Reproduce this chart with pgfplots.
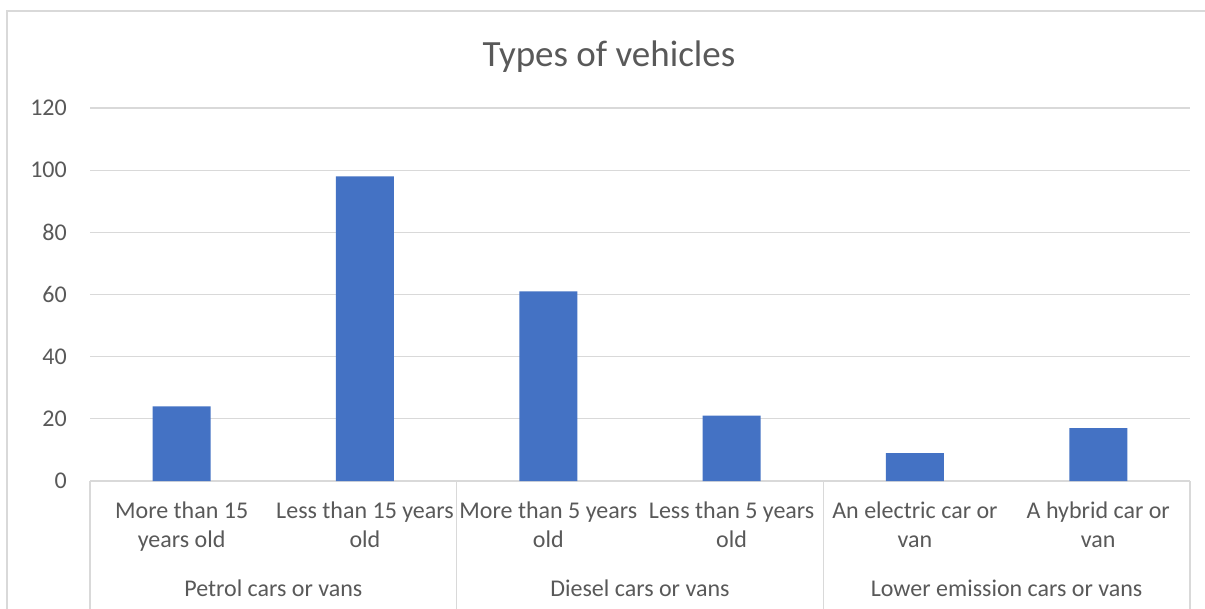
\documentclass[border=0pt]{standalone}
\usepackage{fontspec}
\setmainfont{Carlito}
\usepackage{pgfplots}
\pgfplotsset{compat=1.18}
\definecolor{barblue}{HTML}{4472C4}
\definecolor{txtgray}{HTML}{595959}
\definecolor{gridgray}{HTML}{D9D9D9}
\begin{document}
\begin{tikzpicture}
\useasboundingbox (0,0) rectangle (1205pt,608pt);
\fill[white] (0,0) rectangle (1205pt,608pt);
\draw[gridgray, line width=1.3pt] (7pt,-5pt) -- (7pt,597pt) -- (1215pt,597pt);
\node[anchor=base, font=\fontsize{37}{42}\selectfont, text=txtgray] at (609pt,541pt) {Types of vehicles};
\begin{axis}[
  at={(90pt,127pt)}, anchor=south west,
  scale only axis, width=1100pt, height=373pt,
  clip=false,
  ymin=0, ymax=120, ytick={0,20,...,120},
  xmin=-0.5, xmax=5.5, xtick={0,...,5},
  xticklabels={{More than 15\\years old},{Less than 15 years\\old},{More than 5 years\\old},{Less than 5 years\\old},{An electric car or\\van},{A hybrid car or\\van}},
  ymajorgrids, grid style={gridgray, line width=1.3pt},
  axis line style={draw=none},
  major tick length=0pt,
  /pgf/number format/assume math mode=true,
  tick label style={font=\fontsize{24}{29}\selectfont, text=txtgray},
  yticklabel style={anchor=east, inner sep=0pt, xshift=-23pt},
  xticklabel style={align=center, anchor=north, inner sep=0pt, yshift=-21pt},
]
\addplot[ybar, bar width=58pt, fill=barblue, draw=none] coordinates {(0,24) (1,98) (2,61) (3,21) (4,9) (5,17)};
\draw[gridgray, line width=1.3pt] (axis cs:-0.5,0) -- (axis cs:-0.5,-45);
\draw[gridgray, line width=1.3pt] (axis cs:1.5,0) -- (axis cs:1.5,-45);
\draw[gridgray, line width=1.3pt] (axis cs:3.5,0) -- (axis cs:3.5,-45);
\draw[gridgray, line width=1.3pt] (axis cs:5.5,0) -- (axis cs:5.5,-45);
\node[anchor=base, font=\fontsize{24}{29}\selectfont, text=txtgray] at (axis cs:0.5,-37.3) {Petrol cars or vans};
\node[anchor=base, font=\fontsize{24}{29}\selectfont, text=txtgray] at (axis cs:2.5,-37.3) {Diesel cars or vans};
\node[anchor=base, font=\fontsize{24}{29}\selectfont, text=txtgray] at (axis cs:4.5,-37.3) {Lower emission cars or vans};
\end{axis}
\end{tikzpicture}
\end{document}
